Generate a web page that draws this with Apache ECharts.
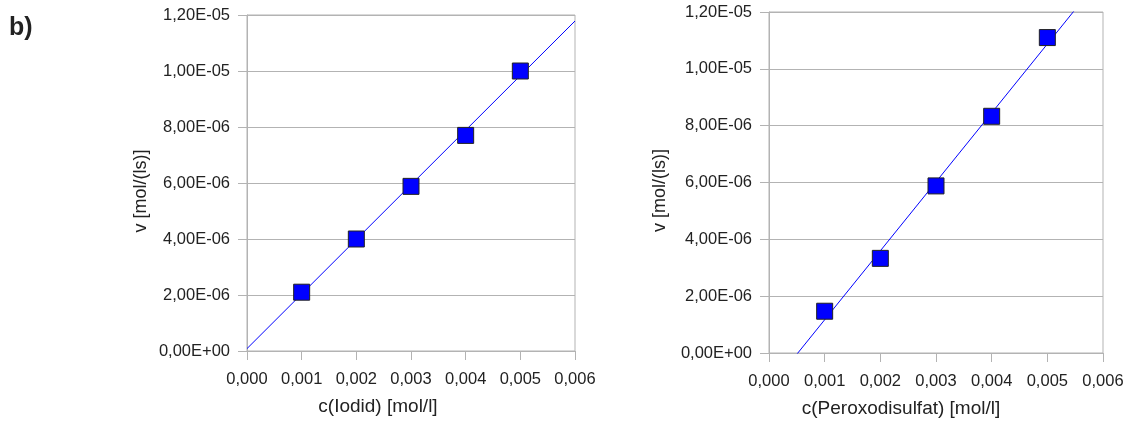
<!DOCTYPE html>
<html>
<head>
<meta charset="utf-8">
<script src="https://cdn.jsdelivr.net/npm/echarts@6/dist/echarts.min.js"></script>
<style>
html,body{margin:0;padding:0;background:#fff;}
#c{width:1127px;height:423px;}
</style>
</head>
<body>
<div id="c"></div>
<script>
// Data
const xTicks = [0, 0.001, 0.002, 0.003, 0.004, 0.005, 0.006];
const iodidConc = [0.001, 0.002, 0.003, 0.004, 0.005];
const iodidRate = [2.1e-6, 4.0e-6, 5.88e-6, 7.7e-6, 1.0e-5];
const peroxoConc = [0.001, 0.002, 0.003, 0.004, 0.005];
const peroxoRate = [1.47e-6, 3.33e-6, 5.88e-6, 8.33e-6, 1.11e-5];
const yMax = 1.2e-5;
const yStep = 2e-6;

function regress(xs, ys) {
  const n = xs.length;
  const mx = xs.reduce((a, b) => a + b, 0) / n;
  const my = ys.reduce((a, b) => a + b, 0) / n;
  let sxy = 0, sxx = 0;
  for (let i = 0; i < n; i++) { sxy += (xs[i] - mx) * (ys[i] - my); sxx += (xs[i] - mx) ** 2; }
  const k = sxy / sxx;
  return { k: k, d: my - k * mx };
}
function trend(xs, ys) {
  const r = regress(xs, ys);
  const x0 = xTicks[0], x1 = xTicks[xTicks.length - 1];
  return [[x0, r.d + r.k * x0], [x1, r.d + r.k * x1]];
}
function expFmt(v) {
  const s = Number(v).toExponential(2);
  const parts = s.split('e');
  let exp = parseInt(parts[1], 10);
  const sign = exp < 0 ? '-' : '+';
  exp = Math.abs(exp);
  return parts[0].replace('.', ',') + 'E' + sign + (exp < 10 ? '0' + exp : '' + exp);
}
function xFmt(v) { return Number(v).toFixed(3).replace('.', ','); }

const gray = '#b3b3b3';
const txt = '#222';
const font = 'Liberation Sans, Arial, sans-serif';

function xAxis(gridIndex, name, shift) {
  return {
    type: 'value', gridIndex: gridIndex, min: 0, max: 0.006, interval: 0.001,
    name: name, nameLocation: 'middle', nameGap: 46,
    nameTextStyle: { fontSize: 19, color: txt, fontFamily: font, padding: [0, shift, 0, 0] },
    axisLine: { show: true, lineStyle: { color: gray, width: 1 } },
    axisTick: { show: true, length: 9, lineStyle: { color: gray } },
    axisLabel: { formatter: xFmt, fontSize: 16.5, color: txt, fontFamily: font, margin: 20 },
    splitLine: { show: false }
  };
}
function yAxis(gridIndex, gap) {
  return {
    type: 'value', gridIndex: gridIndex, min: 0, max: yMax, interval: yStep,
    name: 'v [mol/(ls)]', nameLocation: 'middle', nameGap: gap, nameRotate: 90,
    nameTextStyle: { fontSize: 18, color: txt, fontFamily: font, padding: [0, 16, 0, 0] },
    axisLine: { show: true, lineStyle: { color: gray, width: 1 } },
    axisTick: { show: true, length: 9, lineStyle: { color: gray } },
    axisLabel: { formatter: expFmt, fontSize: 16.5, color: txt, fontFamily: font, margin: 17, padding: [4, 0, 0, 0] },
    splitLine: { show: true, lineStyle: { color: gray, width: 1 } }
  };
}
function scatter(i, xs, ys) {
  return {
    type: 'scatter', xAxisIndex: i, yAxisIndex: i, symbol: 'rect', symbolSize: 16,
    itemStyle: { color: '#0000ff', borderColor: '#222', borderWidth: 1, opacity: 1 },
    data: xs.map((x, k) => [x, ys[k]]), z: 3
  };
}
function line(i, xs, ys) {
  return {
    type: 'line', xAxisIndex: i, yAxisIndex: i, showSymbol: false, symbol: 'none',
    lineStyle: { color: '#0000ff', width: 1 }, clip: true, silent: true,
    data: trend(xs, ys), z: 2
  };
}

const chart = echarts.init(document.getElementById('c'));
chart.setOption({
  animation: false,
  backgroundColor: '#fff',
  title: { text: 'b)', left: 4, top: 11, textStyle: { fontSize: 25, fontWeight: 'bold', color: txt, fontFamily: font } },
  grid: [
    { left: 247, right: 552, top: 15, bottom: 72, show: true, borderColor: gray, borderWidth: 1, backgroundColor: 'transparent' },
    { left: 769, right: 24, top: 12, bottom: 69, show: true, borderColor: gray, borderWidth: 1, backgroundColor: 'transparent' }
  ],
  xAxis: [xAxis(0, 'c(Iodid) [mol/l]', 66), xAxis(1, 'c(Peroxodisulfat) [mol/l]', 70)],
  yAxis: [yAxis(0, 97), yAxis(1, 100)],
  series: [
    line(0, iodidConc, iodidRate), scatter(0, iodidConc, iodidRate),
    line(1, peroxoConc, peroxoRate), scatter(1, peroxoConc, peroxoRate)
  ]
});
</script>
</body>
</html>
